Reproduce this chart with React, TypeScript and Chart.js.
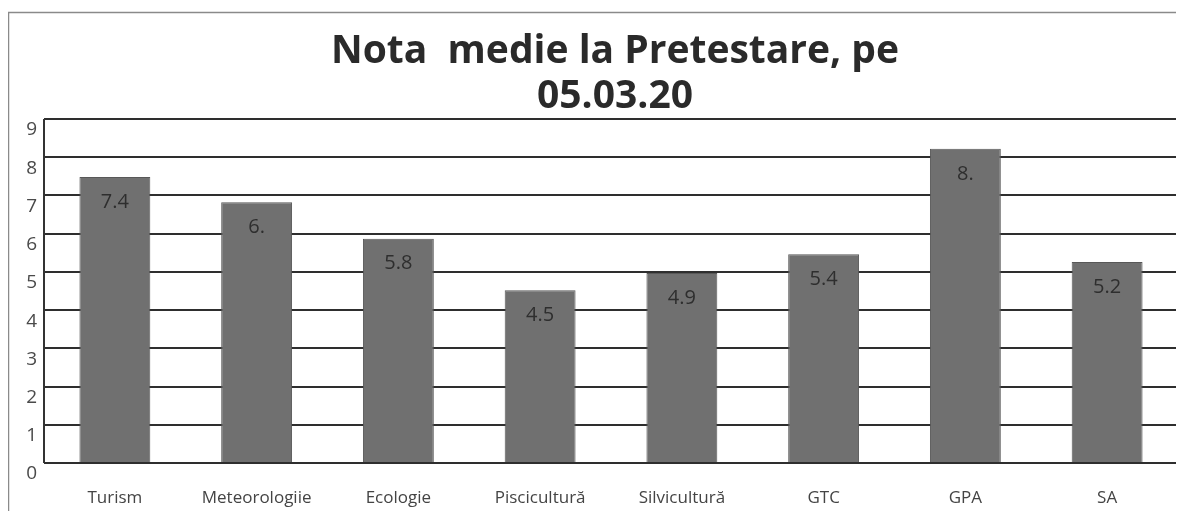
import React, { useEffect, useRef } from "react";
import { Chart, registerables } from "chart.js";

Chart.register(...registerables);

const categories = ["Turism", "Meteorologiie", "Ecologie", "Piscicultură", "Silvicultură", "GTC", "GPA", "SA"];
const values = [7.48, 6.82, 5.87, 4.52, 4.97, 5.46, 8.22, 5.26];
const valueLabels = ["7.4", "6.", "5.8", "4.5", "4.9", "5.4", "8.", "5.2"];
const titleLines = ["Nota  medie la Pretestare, pe", "05.03.20"];
const yMin = 0;
const yMax = 9;

const FONT = "'Open Sans', Lato, sans-serif";

const valueLabelPlugin = {
  id: "valueLabels",
  afterDatasetsDraw(chart: any) {
    const ctx = chart.ctx;
    const meta = chart.getDatasetMeta(0);
    ctx.save();
    ctx.fillStyle = "#2e2e2e";
    ctx.font = `20px ${FONT}`;
    ctx.textAlign = "center";
    ctx.textBaseline = "middle";
    meta.data.forEach((bar: any, i: number) => {
      ctx.fillText(valueLabels[i], bar.x, bar.y + 25);
    });
    ctx.restore();
  },
};

const titlePlugin = {
  id: "customTitle",
  afterDraw(chart: any) {
    const ctx = chart.ctx;
    ctx.save();
    ctx.fillStyle = "#2a2a2a";
    ctx.font = `bold 39px ${FONT}`;
    ctx.textAlign = "center";
    ctx.textBaseline = "middle";
    const cx = 607;
    titleLines.forEach((line, i) => {
      ctx.fillText(line, cx, 44 + i * 45);
    });
    ctx.restore();
  },
};

const framePlugin = {
  id: "frame",
  beforeDraw(chart: any) {
    const ctx = chart.ctx;
    ctx.save();
    ctx.strokeStyle = "#8a8a8a";
    ctx.lineWidth = 1.5;
    ctx.beginPath();
    ctx.moveTo(0.5, chart.height);
    ctx.lineTo(0.5, 4.5);
    ctx.lineTo(chart.width, 4.5);
    ctx.stroke();
    ctx.restore();
  },
  afterDraw(chart: any) {
    const ctx = chart.ctx;
    const a = chart.chartArea;
    ctx.save();
    ctx.strokeStyle = "#333333";
    ctx.lineWidth = 2;
    ctx.beginPath();
    ctx.moveTo(a.left, a.top);
    ctx.lineTo(a.left, a.bottom);
    ctx.stroke();
    ctx.restore();
  },
};

export default function App() {
  const ref = useRef<HTMLCanvasElement | null>(null);
  useEffect(() => {
    if (!ref.current) return;
    const chart = new Chart(ref.current, {
      type: "bar",
      data: {
        labels: categories,
        datasets: [
          {
            data: values,
            backgroundColor: "#707070",
            borderColor: "#585858",
            borderWidth: 1,
            barPercentage: 0.5,
            categoryPercentage: 1,
          },
        ],
      },
      options: {
        animation: false,
        responsive: false,
        maintainAspectRatio: false,
        layout: { padding: { left: 0, right: 0, top: 111, bottom: 0 } },
        plugins: {
          legend: { display: false },
          tooltip: { enabled: false },
          title: { display: false },
        },
        scales: {
          x: {
            grid: { display: false, drawTicks: false },
            border: { display: false },
            ticks: { color: "#444444", font: { family: FONT, size: 17 }, padding: 25, maxRotation: 0 },
            afterFit: (s: any) => {
              s.height = 48;
            },
          },
          y: {
            min: yMin,
            max: yMax,
            grid: { color: "#2e2e2e", lineWidth: 2, drawTicks: false },
            border: { display: false },
            ticks: {
              stepSize: 1,
              color: "#4a4a4a",
              font: { family: FONT, size: 19 },
              padding: 7,
              labelOffset: 11,
            },
            afterFit: (s: any) => {
              s.width = 36;
            },
          },
        },
      },
      plugins: [valueLabelPlugin, titlePlugin, framePlugin],
    });
    return () => chart.destroy();
  }, []);
  return (
    <div style={{ width: 1170, height: 503 }}>
      <canvas ref={ref} width={1170} height={503} style={{ display: "block" }} />
    </div>
  );
}
